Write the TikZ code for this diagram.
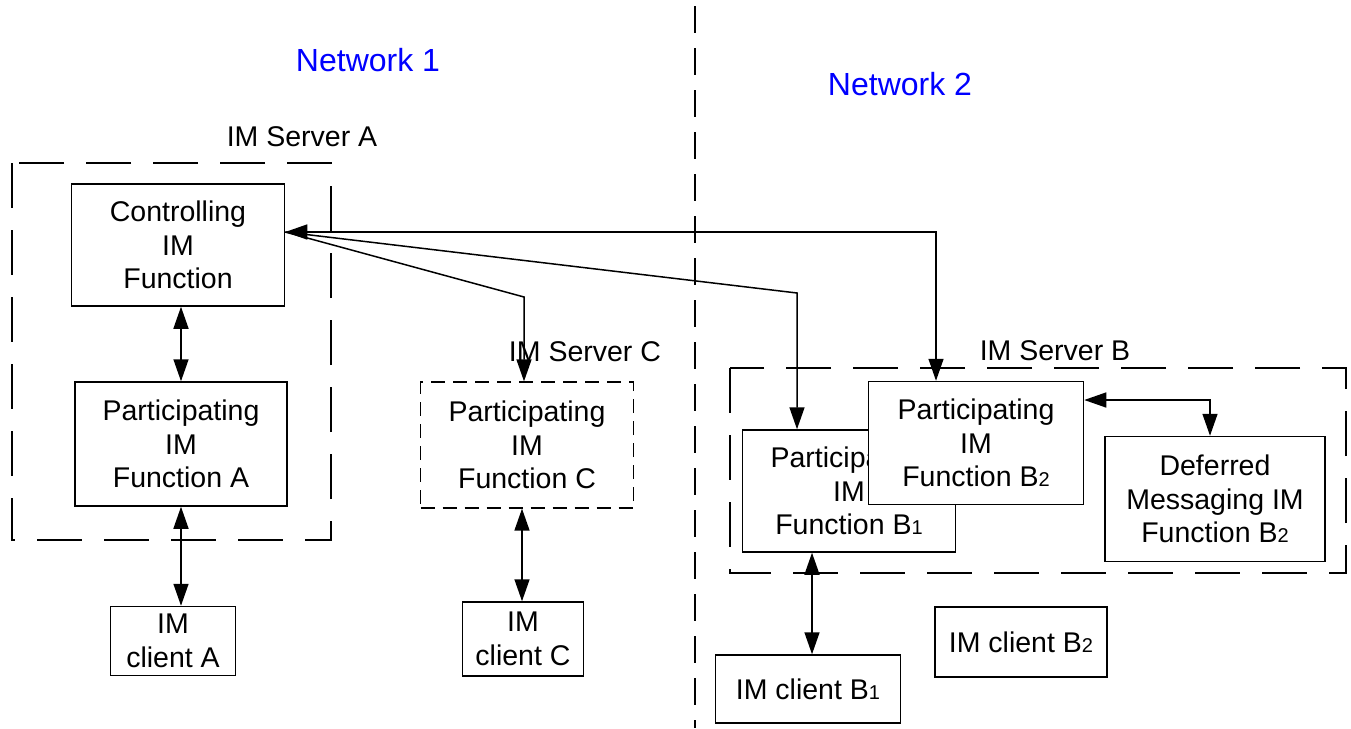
\documentclass[tikz,border=0pt]{standalone}
\usepackage{fontspec}
\setmainfont{Liberation Sans}
\usetikzlibrary{
  arrows.meta,
  positioning,
}
\newcommand\lowdig[1]{{\fontsize{20}{20}\selectfont #1}}

\begin{document}
\begin{tikzpicture}[x=1pt,y=-1pt,
  font=\fontsize{28.5}{33.5}\selectfont,
  fn/.style={draw, line width=1.5pt, fill=white, align=center, inner sep=0pt},
  serverbox/.style={line width=2.5pt, dash pattern=on 45pt off 22pt},
  netline/.style={line width=1.3pt, dash pattern=on 27pt off 15pt},
  link/.style={line width=1.5pt, {Triangle[length=22pt,width=15pt]}-{Triangle[length=22pt,width=15pt]}},
  feed/.style={line width=1.5pt, -{Triangle[length=22pt,width=15pt]}},
  netlabel/.style={text=blue, font=\fontsize{32}{38}\selectfont},
]
\useasboundingbox (0,0) rectangle (1351,728);

\draw[netline] (695,6) -- (695,728);
\node[netlabel] (net1) at (368,60) {Network 1};
\node[netlabel] (net2) at (900,84) {Network 2};

\draw[serverbox] (12,163) rectangle (331,540);
\node (srvA) at (302,137) {IM Server A};
\draw[serverbox] (730,368) rectangle (1346,573);
\node (srvB) at (1055,351) {IM Server B};
\node (srvC) at (585,352) {IM Server C};

\node[fn, minimum width=213pt, minimum height=122pt] (ctrl) at (178,245) {Controlling\\IM\\Function};
\node[fn, minimum width=212pt, minimum height=124pt] (partA) at (181,444) {Participating\\IM\\Function A};
\node[fn, minimum width=213pt, minimum height=126pt, line width=1.3pt, dash pattern=on 14pt off 8pt] (partC) at (527,445) {Participating\\IM\\Function C};
\node[fn, minimum width=213pt, minimum height=122pt] (partB1) at (849,491) {Participating\\IM\\Function B\lowdig{1}};
\node[fn, minimum width=215pt, minimum height=123pt] (partB2) at (976,443) {Participating\\IM\\Function B\lowdig{2}};
\node[fn, minimum width=220pt, minimum height=125pt] (defer) at (1215,499) {Deferred\\Messaging IM\\Function B\lowdig{2}};

\node[fn, minimum width=125pt, minimum height=69pt] (clientA) at (173,641) {IM\\client A};
\node[fn, minimum width=121pt, minimum height=74pt] (clientC) at (523,639) {IM\\client C};
\node[fn, minimum width=185pt, minimum height=68pt] (clientB1) at (808,689) {IM client B\lowdig{1}};
\node[fn, minimum width=172pt, minimum height=70pt] (clientB2) at (1021,642) {IM client B\lowdig{2}};

\coordinate (hub) at ([yshift=13pt]ctrl.east);
\coordinate (b2in) at ([xshift=-40pt]partB2.north);
\coordinate (b1in) at ([xshift=-52pt]partB1.north);
\coordinate (cin) at ([xshift=-3pt]partC.north);
\coordinate (cout) at ([xshift=-5pt]partC.south);
\coordinate (b1out) at ([xshift=-37pt]partB1.south);
\coordinate (b2out) at ([yshift=43pt]partB2.east);
\coordinate (dfin) at ([xshift=-5pt]defer.north);

\draw[link] (partA.north |- ctrl.south) -- (partA.north);
\draw[link] (partA.south) -- (partA.south |- clientA.north);
\draw[link] (cout) -- (cout |- clientC.north);
\draw[link] (b1out) -- (b1out |- clientB1.north);
\draw[link] (b2out) -| (dfin);
\draw[link] (hub) -| (b2in);
\draw[feed] (hub) -- (b1in |- 0,293) -- (b1in);
\draw[feed] (hub) -- (cin |- 0,297) -- (cin);
\end{tikzpicture}
\end{document}
